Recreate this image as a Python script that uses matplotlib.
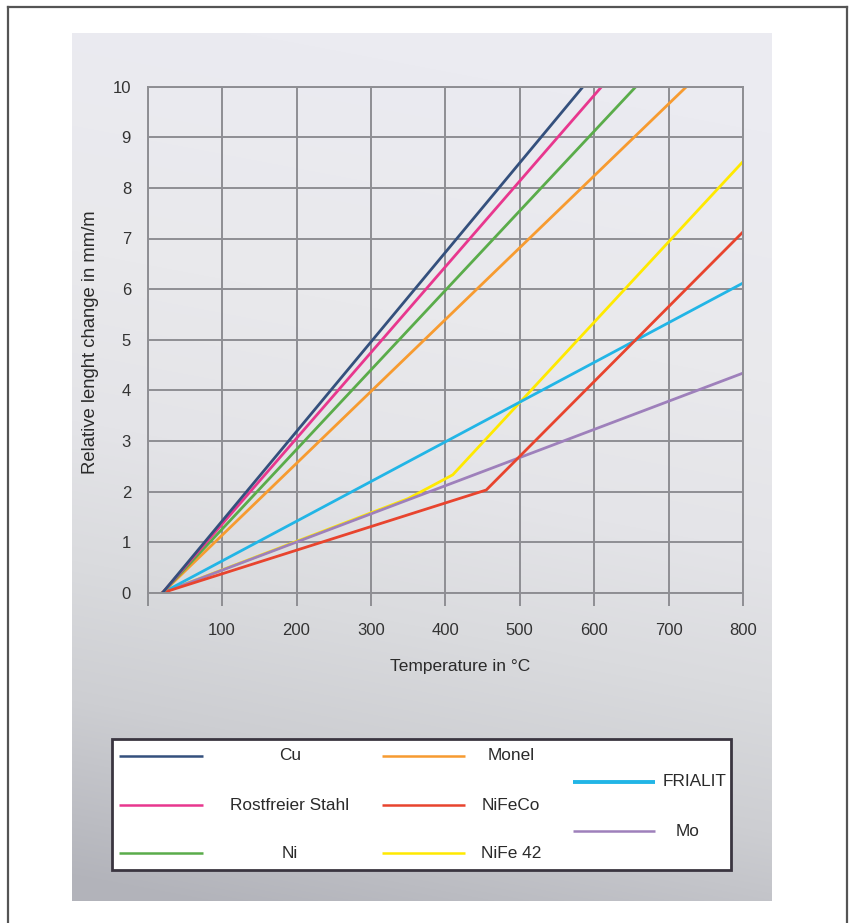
import numpy as np
import matplotlib
matplotlib.use('Agg')
import matplotlib.pyplot as plt
from matplotlib.patches import Rectangle

plt.rcParams['font.family'] = ['Liberation Sans', 'DejaVu Sans']

# Daten: Temperatur (°C) und relative Längenänderung (mm/m)
cu_t = [20, 585]
cu_l = [0, 10]
stahl_t = [20, 610]
stahl_l = [0, 10]
ni_t = [20, 656]
ni_l = [0, 10]
monel_t = [20, 724]
monel_l = [0, 10]
nifeco_t = [20, 455, 800]
nifeco_l = [0, 2.03, 7.13]
nife42_t = [20, 350, 410, 800]
nife42_l = [0, 1.86, 2.33, 8.52]
frialit_t = [20, 800]
frialit_l = [0, 6.12]
mo_t = [20, 800]
mo_l = [0, 4.34]

x_ticks = [0, 100, 200, 300, 400, 500, 600, 700, 800]
x_ticklabels = ['', '100', '200', '300', '400', '500', '600', '700', '800']
y_ticks = list(range(0, 11))

colors = {
    'Cu': '#34507d',
    'Rostfreier Stahl': '#e8378e',
    'Ni': '#5aac4a',
    'Monel': '#f79b30',
    'NiFeCo': '#e8442e',
    'NiFe 42': '#ffe900',
    'FRIALIT': '#22b5e6',
    'Mo': '#9e80bb',
}

W, H = 849, 923
fig = plt.figure(figsize=(W / 100, H / 100), dpi=100)
fig.patch.set_facecolor('white')

# Hintergrund-Ebene in Pixelkoordinaten
bg = fig.add_axes([0, 0, 1, 1])
bg.set_xlim(0, W)
bg.set_ylim(H, 0)
bg.axis('off')
bg.set_zorder(0)

# grauer Verlauf
px0, px1, py0, py1 = 72, 772, 33, 901
xx, yy = np.meshgrid(np.arange(px0, px1), np.arange(py0, py1))
t = yy - 0.19 * (xx - px0)
nodes = [0, 250, 420, 560, 700, 880]
rgb = [(235, 235, 241), (233, 233, 236), (228, 228, 232), (218, 219, 222), (205, 206, 210), (178, 179, 186)]
img = np.dstack([np.interp(t, nodes, [c[i] for c in rgb]) for i in range(3)]) / 255.0
bg.imshow(img, extent=(px0, px1, py1, py0), aspect='auto', interpolation='bilinear', zorder=0)

# Rahmen
bg.plot([8.5, 8.5], [H + 5, 6.5], color='#555555', lw=1.6, zorder=1, clip_on=False)
bg.plot([8.5, 847], [6.5, 6.5], color='#555555', lw=1.6, zorder=1, clip_on=False)
bg.plot([847, 847], [6.5, H + 5], color='#555555', lw=1.6, zorder=1, clip_on=False)

# Hauptdiagramm
ax = fig.add_axes([147.7 / W, 1 - 592.7 / H, (743 - 147.7) / W, (592.7 - 86.7) / H])
ax.set_zorder(1)
ax.patch.set_alpha(0)

ax.plot(nife42_t, nife42_l, color=colors['NiFe 42'], lw=2.0)
ax.plot(mo_t, mo_l, color=colors['Mo'], lw=2.0)
ax.plot(frialit_t, frialit_l, color=colors['FRIALIT'], lw=2.0)
ax.plot(nifeco_t, nifeco_l, color=colors['NiFeCo'], lw=2.0)
ax.plot(monel_t, monel_l, color=colors['Monel'], lw=2.0)
ax.plot(ni_t, ni_l, color=colors['Ni'], lw=2.0)
ax.plot(stahl_t, stahl_l, color=colors['Rostfreier Stahl'], lw=2.0)
ax.plot(cu_t, cu_l, color=colors['Cu'], lw=2.0)

ax.set_xlim(0, 800)
ax.set_ylim(0, 10)
ax.set_xticks(x_ticks)
ax.set_xticklabels(x_ticklabels)
ax.set_yticks(y_ticks)
ax.grid(True, color='#8e8e93', lw=1.4)
ax.set_axisbelow(True)
for s in ax.spines.values():
    s.set_color('#8e8e93')
    s.set_linewidth(1.4)
ax.tick_params(axis='x', length=9, width=1.4, color='#8e8e93', pad=13,
               labelsize=12, labelcolor='#333333')
ax.tick_params(axis='y', length=0, pad=12, labelsize=12, labelcolor='#333333')

fig.text(460 / W, 1 - 667 / H, 'Temperature in °C', ha='center', va='center',
         fontsize=12.5, color='#2a2a2a')
fig.text(91 / W, 1 - 342 / H, 'Relative lenght change in mm/m', ha='center', va='center',
         rotation=90, fontsize=13.3, color='#2a2a2a')

# Legende
bg.add_patch(Rectangle((112, 739), 731 - 112, 870 - 739, facecolor='white',
                       edgecolor='#3a3540', lw=2, zorder=2))
leg_names = ['Cu', 'Rostfreier Stahl', 'Ni', 'Monel', 'NiFeCo', 'NiFe 42', 'FRIALIT', 'Mo']
leg_x0 = [119, 119, 119, 382, 382, 382, 573, 573]
leg_x1 = [203, 203, 203, 465, 465, 465, 655, 655]
leg_y = [756, 805, 853, 756, 805, 853, 782, 831]
leg_tx = [290, 290, 290, 511, 511, 511, 695, 688]
for name, a, b, y, tx in zip(leg_names, leg_x0, leg_x1, leg_y, leg_tx):
    bg.plot([a, b], [y, y], color=colors[name], lw=2.8 if name == 'FRIALIT' else 1.8,
            zorder=3, solid_capstyle='butt')
    bg.text(tx, y, name, ha='center', va='center', fontsize=12.4, color='#2a2a2a', zorder=3)

fig.savefig('out.png', dpi=100)
